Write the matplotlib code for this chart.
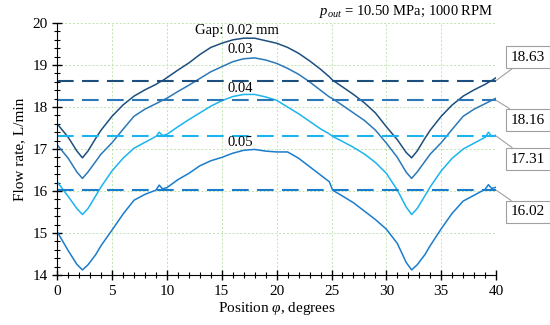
import matplotlib
matplotlib.use('Agg')
import matplotlib.pyplot as plt
from matplotlib.ticker import MultipleLocator

plt.rcParams['font.family'] = ['Liberation Serif', 'DejaVu Serif']
plt.rcParams['mathtext.fontset'] = 'custom'
plt.rcParams['mathtext.rm'] = 'Liberation Serif'
plt.rcParams['mathtext.it'] = 'Liberation Serif:italic'

# Position, degrees (shared by all curves)
pos = [0, 1, 1.8, 2.3, 2.8, 3.5, 4, 5, 6, 7, 8, 9, 9.3, 9.6, 10, 11, 12, 13, 14, 15, 16, 17, 18, 19,
       20, 21, 22, 23, 24, 24.8, 25.1, 26, 27, 28, 29, 30, 31, 31.8, 32.3, 32.8, 33.5, 34, 35, 36,
       37, 38, 39, 39.3, 39.6, 40]

flow_002 = [17.60, 17.28, 16.95, 16.79, 16.95, 17.25, 17.45, 17.78, 18.05, 18.26, 18.41, 18.54, 18.59,
            18.63, 18.70, 18.88, 19.05, 19.25, 19.42, 19.52, 19.60, 19.64, 19.64, 19.58,
            19.52, 19.42, 19.28, 19.10, 18.90, 18.72, 18.64, 18.48, 18.30, 18.10, 17.86, 17.53,
            17.22, 16.92, 16.79, 16.95, 17.25, 17.45, 17.78, 18.05, 18.26, 18.41, 18.54, 18.59,
            18.63, 18.70]
flow_003 = [17.10, 16.78, 16.45, 16.30, 16.45, 16.70, 16.88, 17.15, 17.47, 17.78, 17.95, 18.08, 18.12,
            18.16, 18.21, 18.37, 18.52, 18.68, 18.84, 18.96, 19.08, 19.15, 19.17, 19.12,
            19.04, 18.92, 18.78, 18.60, 18.40, 18.24, 18.20, 18.04, 17.86, 17.68, 17.45, 17.14,
            16.80, 16.45, 16.30, 16.45, 16.70, 16.88, 17.15, 17.47, 17.78, 17.95, 18.08, 18.12,
            18.16, 18.21]
flow_004 = [16.22, 15.87, 15.58, 15.44, 15.58, 15.88, 16.10, 16.48, 16.78, 17.02, 17.16, 17.30, 17.40,
            17.32, 17.35, 17.53, 17.70, 17.86, 18.02, 18.15, 18.25, 18.30, 18.30, 18.24,
            18.16, 18.00, 17.84, 17.66, 17.48, 17.36, 17.30, 17.18, 17.04, 16.88, 16.68, 16.42,
            16.02, 15.62, 15.44, 15.58, 15.88, 16.10, 16.48, 16.78, 17.00, 17.14, 17.28, 17.40,
            17.30, 17.33]
flow_005 = [15.03, 14.58, 14.25, 14.12, 14.24, 14.48, 14.70, 15.07, 15.45, 15.78, 15.92, 16.02, 16.14,
            16.05, 16.08, 16.27, 16.42, 16.60, 16.72, 16.80, 16.90, 16.97, 16.99, 16.95,
            16.93, 16.93, 16.78, 16.58, 16.38, 16.22, 16.02, 15.88, 15.72, 15.52, 15.32, 15.09,
            14.75, 14.30, 14.12, 14.24, 14.48, 14.70, 15.10, 15.47, 15.76, 15.90, 16.04, 16.15,
            16.06, 16.09]

gaps = ['Gap: 0.02 mm', '0.03', '0.04', '0.05']
mean_flow = [18.63, 18.16, 17.31, 16.02]
colors = ['#1d4f7e', '#2a78b8', '#1bb4f0', '#1a7ccc']

fig = plt.figure(figsize=(5.5, 3.25), dpi=100)
ax = fig.add_axes([0.104, 0.154, 0.798, 0.775])

series = [flow_002, flow_003, flow_004, flow_005]
for vals, c in zip(series, colors):
    ax.plot(pos, vals, color=c, lw=1.1)

for m, c in zip(mean_flow, colors):
    ax.axhline(m, color=c, lw=1.5, dashes=(8, 4))

# curve labels
label_xy = [(16.4, 19.83), (16.7, 19.36), (16.7, 18.45), (16.7, 17.15)]
for txt, (x, y) in zip(gaps, label_xy):
    ax.text(x, y, txt, ha='center', va='center', fontsize=10.5)

# callout boxes with mean values
box_y = [19.19, 17.69, 16.76, 15.50]
for m, by, c in zip(mean_flow, box_y, colors):
    ax.annotate(f'{m:.2f}', xy=(40, m), xytext=(42.9, by), ha='center', va='center',
                fontsize=11, annotation_clip=False,
                bbox=dict(boxstyle='square,pad=0.3', fc='white', ec='#a0a0a0', lw=0.8),
                arrowprops=dict(arrowstyle='-', color='#a0a0a0', lw=0.8,
                                shrinkA=0, shrinkB=0))

ax.text(31.8, 20.27, r'$p_{out}$ = 10.50 MPa; 1000 RPM', ha='center', va='center', fontsize=10.5)

ax.set_xlim(0, 40)
ax.set_ylim(14, 20)
ax.xaxis.set_major_locator(MultipleLocator(5))
ax.xaxis.set_minor_locator(MultipleLocator(1))
ax.yaxis.set_major_locator(MultipleLocator(1))
ax.yaxis.set_minor_locator(MultipleLocator(0.2))
ax.tick_params(which='major', direction='inout', length=7, width=1, labelsize=11)
ax.tick_params(which='minor', direction='inout', length=4, width=0.8)
ax.spines['top'].set_visible(False)
ax.spines['right'].set_visible(False)
ax.grid(True, which='major', color='#c2e3b0', ls=(0, (2, 2)), lw=0.7)
ax.set_axisbelow(True)

ax.set_xlabel(r'Position $\varphi$, degrees', fontsize=11, labelpad=2)
ax.set_ylabel('Flow rate, L/min', fontsize=11, labelpad=4)

fig.savefig('out.png', dpi=100)
